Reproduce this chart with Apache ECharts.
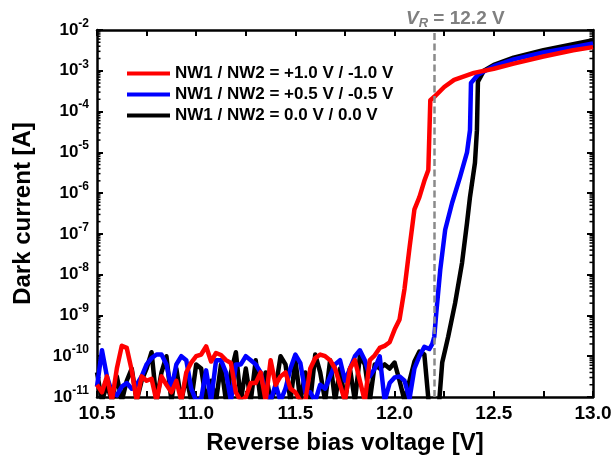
<!DOCTYPE html>
<html><head><meta charset="utf-8">
<script src="https://cdn.jsdelivr.net/npm/echarts@6/dist/echarts.min.js"></script>
<style>html,body{margin:0;padding:0;background:#fff}#c{width:616px;height:461px}</style>
</head><body><div id="c"></div>
<script>
const FONT = '"Liberation Sans", Arial, sans-serif';
const seriesNames = ['NW1 / NW2 = +1.0 V / -1.0 V', 'NW1 / NW2 = +0.5 V / -0.5 V', 'NW1 / NW2 = 0.0 V / 0.0 V'];
const xTicks = [10.5, 11.0, 11.5, 12.0, 12.5, 13.0];
const vrValue = 12.2;
const noiseV = [10.5,10.525,10.55,10.575,10.6,10.625,10.65,10.675,10.7,10.725,10.75,10.775,10.8,10.825,10.85,10.875,10.9,10.925,10.95,10.975,11.0,11.025,11.05,11.075,11.1,11.125,11.15,11.175,11.2,11.225,11.25,11.275,11.3,11.325,11.35,11.375,11.4,11.425,11.45,11.475,11.5,11.525,11.55,11.575,11.6,11.625,11.65,11.675,11.7,11.725,11.75,11.775,11.8,11.825,11.85,11.875,11.9,11.925,11.95,11.975,12.0];
const redNoise = [2.0e-11,1.3e-11,3.2e-11,8e-12,5e-11,1.8e-10,1.6e-10,4.5e-11,8e-12,3.2e-11,2.5e-11,2.8e-11,8e-12,3.2e-11,2.0e-11,1.3e-11,2.5e-11,8e-12,4e-11,7e-11,1.0e-10,1.1e-10,1.75e-10,7.4e-11,1.2e-10,1.07e-10,8e-11,6.8e-11,1.3e-11,8e-12,1.0e-11,2.2e-11,2.2e-11,4e-11,8e-12,8e-11,2.0e-11,3.2e-11,4e-11,1.6e-11,1.3e-11,8e-12,8e-12,5e-11,9e-11,1.1e-10,1.0e-10,8e-11,5e-11,2.0e-11,8e-12,5e-11,8e-11,2.5e-11,8e-12,8e-11,1.05e-10,1.6e-10,1.8e-10,2.2e-10,4.5e-10];
const redRiseV = [12.025,12.05,12.075,12.1,12.125,12.15,12.17,12.18,12.2,12.25,12.3,12.4,12.5,12.6,12.75,12.9,13.0];
const redRiseI = [8e-10,4.5e-9,4.5e-8,4e-7,8e-7,2e-6,3.7e-6,1.9e-4,2.3e-4,4e-4,6e-4,8.9e-4,1.12e-3,1.5e-3,2.24e-3,3.2e-3,3.8e-3];
const blueNoise = [1.8e-11,1.4e-10,3.2e-11,1.3e-11,1.1e-11,1.8e-11,2.2e-11,1.6e-11,2.0e-11,3.2e-11,6.3e-11,9e-11,1.1e-10,1.1e-10,6.3e-11,1.6e-11,6.3e-11,1.0e-10,8e-11,1.6e-11,8e-12,9e-12,4.5e-11,8e-12,8e-11,8e-11,4e-11,8e-12,6.3e-11,6.3e-11,1.0e-10,8e-11,6.3e-11,4e-11,1.3e-11,8e-12,2.0e-11,8e-12,1.6e-11,5e-11,1.1e-10,6.8e-11,1.3e-11,1.3e-11,8e-12,2.0e-11,1.6e-11,3.2e-11,6.3e-11,8e-11,2.5e-11,5e-11,1.0e-10,1.4e-10,8e-11,3.2e-11,5e-11,1.0e-10,8e-12,2.2e-11,3e-11];
const blueRiseV = [12.025,12.05,12.075,12.1,12.125,12.15,12.175,12.19,12.2,12.21,12.23,12.255,12.29,12.33,12.365,12.38,12.385,12.42,12.5,12.6,12.75,12.9,13.0];
const blueRiseI = [3.2e-11,2.5e-11,9e-12,5e-11,1e-10,1.7e-10,1.5e-10,2e-10,3e-10,1.15e-9,1.3e-8,1.26e-7,5.8e-7,2.5e-6,1e-5,3.5e-5,5e-4,8e-4,1.3e-3,1.9e-3,2.8e-3,3.8e-3,4.7e-3];
const blackNoise = [4e-11,8e-12,2e-11,8e-12,3.2e-11,8e-12,2.5e-11,5e-11,8e-12,2.5e-11,5e-11,1.25e-10,8e-12,4e-11,1.0e-10,8e-12,5e-11,8e-12,3.2e-11,8e-12,6.3e-11,5e-11,8e-12,2.5e-11,8e-12,6.3e-11,8e-12,4e-11,1.25e-10,8e-12,5e-11,8e-12,8e-11,8e-12,4e-11,8e-12,1.6e-11,1.0e-10,6.3e-11,8e-12,8e-11,8e-12,4e-11,8e-12,1.1e-10,4e-11,8e-12,8e-11,8e-12,5e-11,8e-12,5e-11,8e-12,1.0e-10,6.3e-11,8e-12,6.3e-11,5e-11,6.3e-11,5e-11,7e-11];
const blackRiseV = [12.025,12.05,12.075,12.1,12.125,12.15,12.175,12.2,12.225,12.24,12.255,12.27,12.305,12.34,12.365,12.38,12.405,12.415,12.42,12.45,12.5,12.6,12.75,12.9,13.0];
const blackRiseI = [2.5e-11,8e-12,2.5e-11,7.4e-11,1.3e-10,1.1e-10,5e-12,5e-12,8e-12,7e-11,1.45e-10,3e-10,2e-9,1.95e-8,1.86e-7,8e-7,5.5e-6,3.5e-5,5.4e-4,1e-3,1.4e-3,2.1e-3,3.2e-3,4.5e-3,5.6e-3];

function pairs(v1, i1, v2, i2) {
  const out = [];
  v1.forEach((v, k) => out.push([v, i1[k]]));
  v2.forEach((v, k) => out.push([v, i2[k]]));
  return out;
}
const redData = pairs(noiseV, redNoise, redRiseV, redRiseI);
const blueData = pairs(noiseV, blueNoise, blueRiseV, blueRiseI);
const blackData = pairs(noiseV, blackNoise, blackRiseV, blackRiseI);

const X_MIN = 10.5, X_MAX = 13.0, Y_MIN = 1e-11, Y_MAX = 1e-2;
// minor log ticks (2..9 per decade)
const minorVals = [];
for (let e = -11; e < -2; e++) for (let m = 2; m <= 9; m++) minorVals.push([X_MIN, m * Math.pow(10, e)]);

const chart = echarts.init(document.getElementById('c'), null, {renderer: 'canvas'});
const supLabel = v => '{b|10}{s|' + Math.round(Math.log10(v)) + '}';
const axisLineStyle = {color: '#000', width: 2.5};
const lineCommon = {type: 'line', showSymbol: false, symbol: 'none', lineStyle: {width: 4.5, join: 'round'}, clip: true, animation: false};

chart.setOption({
  animation: false,
  title: {
    text: '{i|V}{r|R}{n| = 12.2 V}',
    left: 401, top: 2,
    textStyle: {
      rich: {
        i: {fontFamily: FONT, fontSize: 19, fontWeight: 'bold', fontStyle: 'italic', color: '#808080'},
        r: {fontFamily: FONT, fontSize: 13, fontWeight: 'bold', fontStyle: 'italic', color: '#808080', padding: [10, 0, 0, 0]},
        n: {fontFamily: FONT, fontSize: 19, fontWeight: 'bold', color: '#808080'}
      }
    }
  },
  legend: {
    data: seriesNames,
    orient: 'vertical',
    left: 122, top: 60,
    icon: 'rect',
    itemWidth: 43, itemHeight: 4, itemGap: 4,
    textStyle: {fontFamily: FONT, fontSize: 17, fontWeight: 'bold', color: '#000', padding: [0, 0, 0, 0]}
  },
  grid: {left: 97, right: 23, top: 30, bottom: 64, containLabel: false},
  xAxis: [{
    type: 'value', min: X_MIN, max: X_MAX, interval: 0.5,
    name: 'Reverse bias voltage [V]', nameLocation: 'middle', nameGap: 34,
    nameTextStyle: {fontFamily: FONT, fontSize: 24, fontWeight: 'bold', color: '#000'},
    axisLine: {lineStyle: axisLineStyle},
    axisTick: {inside: true, length: 6, lineStyle: {width: 2, color: '#000'}},
    minorTick: {show: true, splitNumber: 2, length: 6, lineStyle: {width: 2, color: '#000'}},
    axisLabel: {margin: 7, fontFamily: FONT, fontSize: 19, fontWeight: 'bold', color: '#000', formatter: v => v.toFixed(1)},
    splitLine: {show: false}
  }, {
    type: 'value', position: 'top', min: X_MIN, max: X_MAX, interval: 0.5,
    axisLine: {lineStyle: axisLineStyle},
    axisTick: {inside: true, length: 6, lineStyle: {width: 2, color: '#000'}},
    minorTick: {show: true, splitNumber: 2, length: 6, lineStyle: {width: 2, color: '#000'}},
    axisLabel: {show: false}, splitLine: {show: false}
  }],
  yAxis: [{
    type: 'log', logBase: 10, min: Y_MIN, max: Y_MAX, splitNumber: 9,
    name: 'Dark current [A]', nameLocation: 'middle', nameGap: 62, nameRotate: 90,
    nameTextStyle: {fontFamily: FONT, fontSize: 24, fontWeight: 'bold', color: '#000'},
    axisLine: {lineStyle: axisLineStyle},
    axisTick: {inside: true, length: 6, lineStyle: {width: 2, color: '#000'}},
    axisLabel: {
      margin: 8, formatter: supLabel,
      rich: {
        b: {fontFamily: FONT, fontSize: 17, fontWeight: 'bold', color: '#000'},
        s: {fontFamily: FONT, fontSize: 12, fontWeight: 'bold', color: '#000', padding: [0, 0, 13, 0]}
      }
    },
    splitLine: {show: false}
  }, {
    type: 'log', logBase: 10, min: Y_MIN, max: Y_MAX, splitNumber: 9, position: 'right',
    axisLine: {lineStyle: axisLineStyle},
    axisTick: {inside: true, length: 6, lineStyle: {width: 2, color: '#000'}},
    axisLabel: {show: false}, splitLine: {show: false}
  }],
  series: [
    {
      type: 'custom', name: 'minor', silent: true, data: minorVals, clip: false, z: 1,
      renderItem: (params, api) => {
        const v = api.value(1);
        const pL = api.coord([X_MIN, v]);
        const pR = api.coord([X_MAX, v]);
        const st = {stroke: '#000', lineWidth: 1.5};
        return {type: 'group', children: [
          {type: 'line', shape: {x1: pL[0], y1: pL[1], x2: pL[0] + 3.5, y2: pL[1]}, style: st},
          {type: 'line', shape: {x1: pR[0], y1: pR[1], x2: pR[0] - 3.5, y2: pR[1]}, style: st}
        ]};
      }
    },
    Object.assign({}, lineCommon, {name: seriesNames[2], data: blackData, color: '#000000', z: 2,
      markLine: {
        silent: true, symbol: 'none', label: {show: false},
        lineStyle: {color: '#8a8a8a', width: 2.5, type: [7, 3.5]},
        data: [{xAxis: vrValue}]
      }
    }),
    Object.assign({}, lineCommon, {name: seriesNames[1], data: blueData, color: '#0000ff', z: 3}),
    Object.assign({}, lineCommon, {name: seriesNames[0], data: redData, color: '#ff0000', z: 4})
  ]
});
</script>
</body></html>
